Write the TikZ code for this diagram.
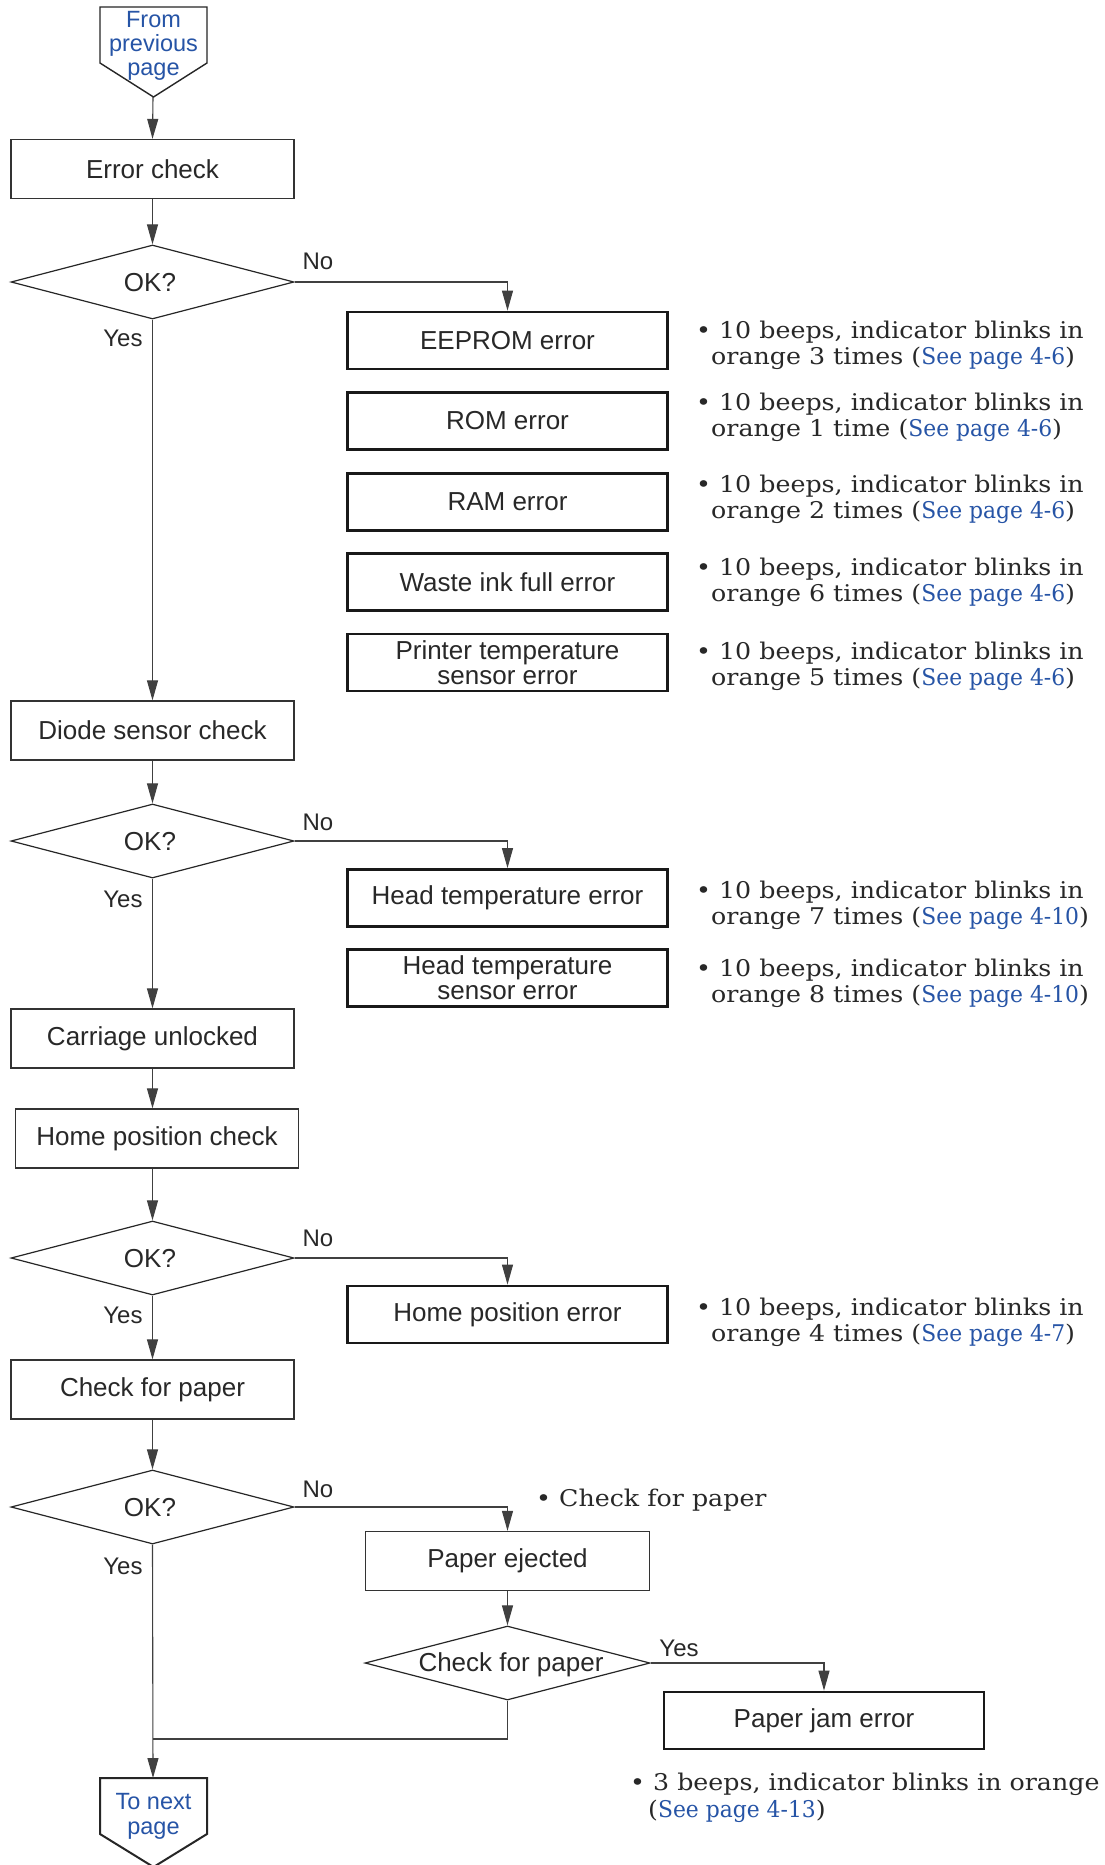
\documentclass[tikz,border=0pt]{standalone}
\usepackage{fontspec}
\setmainfont{DejaVu Serif}[FakeStretch=1.1]
\newfontfamily\linkf{DejaVu Serif}[FakeStretch=0.95]
\newfontfamily\sansf{Liberation Sans}
\usetikzlibrary{arrows.meta,shapes.geometric}
\definecolor{linkblue}{RGB}{38,84,166}
\definecolor{inkgray}{RGB}{40,40,40}
\newcommand\seepg[1]{{\linkf\color{linkblue}See page #1}}
\begin{document}
\begin{tikzpicture}[x=1pt,y=-1pt,
  proc/.style={draw=black!80, line width=1.3pt, minimum width=283pt, minimum height=59pt,
    inner sep=0pt, text=inkgray, font=\sansf\fontsize{26}{25}\selectfont, align=center},
  errbox/.style={proc, draw=black!90, line width=2.8pt, minimum width=320pt, minimum height=57pt},
  dec/.style={diamond, draw=black!85, line width=1.2pt, minimum width=283pt, minimum height=74pt, inner sep=0pt},
  dectext/.style={inner sep=0pt, text=inkgray, font=\sansf\fontsize{26}{25}\selectfont},
  arr/.style={draw=black!75, line width=1.1pt, -{Triangle[length=20pt,width=11pt]}},
  conn/.style={draw=black!75, line width=1.1pt},
  lab/.style={inner sep=0pt, text=inkgray, font=\sansf\fontsize{24}{24}\selectfont},
  note/.style={anchor=base west, inner sep=0pt, text=inkgray, font=\fontsize{23}{26}\selectfont},
  pent/.style={draw=black!85, line width=1.4pt},
  penttext/.style={inner sep=0pt, text=linkblue, align=center, font=\sansf\fontsize{23.5}{24}\selectfont}
]
\useasboundingbox (0,0) rectangle (1104,1865);
\fill[white] (0,0) rectangle (1104,1865);

% from previous page
\draw[pent] (100,7) -- (207,7) -- (207,63) -- (153.5,97) -- (100,63) -- cycle;
\node[penttext] (fromtxt) at (153.5,46) {From\\previous\\page};
\coordinate (fromtip) at (153,97);

% main column
\node[proc] (ec) at (152.5,169) {Error check};
\node[dec] (d1) at (152.5,282) {};
\node[dectext] (d1t) at (150,283) {OK?};
\node[proc] (diode) at (152.5,730.5) {Diode sensor check};
\node[dec] (d2) at (152.5,841) {};
\node[dectext] (d2t) at (150,842) {OK?};
\node[proc] (carr) at (152.5,1038.5) {Carriage unlocked};
\node[proc] (home) at (157,1138.5) {Home position check};
\node[dec] (d3) at (152.5,1258) {};
\node[dectext] (d3t) at (150,1259) {OK?};
\node[proc] (cfp) at (152.5,1389.5) {Check for paper};
\node[dec] (d4) at (152.5,1507) {};
\node[dectext] (d4t) at (150,1508) {OK?};

% error boxes
\node[errbox] (eeprom) at (507.5,340.5) {EEPROM error};
\node[errbox] (rom) at (507.5,421) {ROM error};
\node[errbox] (ram) at (507.5,502) {RAM error};
\node[errbox] (waste) at (507.5,582) {Waste ink full error};
\node[errbox] (ptemp) at (507.5,662.5) {Printer temperature\\sensor error};
\node[errbox] (htemp) at (507.5,898) {Head temperature error};
\node[errbox] (hsens) at (507.5,978) {Head temperature\\sensor error};
\node[errbox] (hperr) at (507.5,1314.5) {Home position error};

% paper branch
\node[proc, minimum width=284pt] (pej) at (507.5,1561) {Paper ejected};
\node[dec, minimum width=285pt] (cfp2) at (507.5,1663) {};
\node[dectext] (cfp2t) at (511,1665) {Check for paper};
\node[errbox] (pje) at (824,1720.5) {Paper jam error};

% to next page
\draw[pent, line width=2pt] (100,1778) -- (207,1778) -- (207,1834) -- (153.5,1867) -- (100,1834) -- cycle;
\node[penttext, font=\sansf\fontsize{23.5}{25}\selectfont] (totxt) at (153.5,1816) {To next\\page};
\coordinate (totop) at (153,1778);
\coordinate (join) at (152.5,1739);

% connectors
\draw[arr] (fromtip) -- (ec.north);
\draw[arr] (ec.south) -- (d1.north);
\draw[arr] (d1.east) -| (eeprom.north);
\draw[arr] (d1.south) -- (diode.north);
\draw[arr] (diode.south) -- (d2.north);
\draw[arr] (d2.east) -| (htemp.north);
\draw[arr] (d2.south) -- (carr.north);
\draw[arr] (carr.south) -- (carr.south |- home.north);
\draw[arr] (d3.north |- home.south) -- (d3.north);
\draw[arr] (d3.east) -| (hperr.north);
\draw[arr] (d3.south) -- (cfp.north);
\draw[arr] (cfp.south) -- (d4.north);
\draw[arr] (d4.east) -| (pej.north);
\draw[arr] (pej.south) -- (cfp2.north);
\draw[arr] (cfp2.east) -| (pje.north);
\draw[arr] (d4.south) -- (totop);
\draw[conn] (cfp2.south) |- (join);

% branch labels
\node[lab] (no1) at (318,261) {No};
\node[lab] (yes1) at (123,338) {Yes};
\node[lab] (no2) at (318,822) {No};
\node[lab] (yes2) at (123,899) {Yes};
\node[lab] (no3) at (318,1238) {No};
\node[lab] (yes3) at (123,1315) {Yes};
\node[lab] (no4) at (318,1489) {No};
\node[lab] (yes4) at (123,1566) {Yes};
\node[lab] (yes5) at (679,1648) {Yes};

% notes
\node[note] (n1a) at (696,338) {• 10 beeps, indicator blinks in};
\node[note] (n1b) at (711,364) {orange 3 times (\seepg{4-6})};
\node[note] (n2a) at (696,410) {• 10 beeps, indicator blinks in};
\node[note] (n2b) at (711,436) {orange 1 time (\seepg{4-6})};
\node[note] (n3a) at (696,492) {• 10 beeps, indicator blinks in};
\node[note] (n3b) at (711,518) {orange 2 times (\seepg{4-6})};
\node[note] (n4a) at (696,575) {• 10 beeps, indicator blinks in};
\node[note] (n4b) at (711,601) {orange 6 times (\seepg{4-6})};
\node[note] (n5a) at (696,659) {• 10 beeps, indicator blinks in};
\node[note] (n5b) at (711,685) {orange 5 times (\seepg{4-6})};
\node[note] (n6a) at (696,898) {• 10 beeps, indicator blinks in};
\node[note] (n6b) at (711,924) {orange 7 times (\seepg{4-10})};
\node[note] (n7a) at (696,976) {• 10 beeps, indicator blinks in};
\node[note] (n7b) at (711,1002) {orange 8 times (\seepg{4-10})};
\node[note] (n8a) at (696,1315) {• 10 beeps, indicator blinks in};
\node[note] (n8b) at (711,1341) {orange 4 times (\seepg{4-7})};
\node[note] (n9) at (536,1506) {• Check for paper};
\node[note] (n10a) at (630,1790) {• 3 beeps, indicator blinks in orange};
\node[note] (n10b) at (648,1817) {(\seepg{4-13})};
\end{tikzpicture}
\end{document}
